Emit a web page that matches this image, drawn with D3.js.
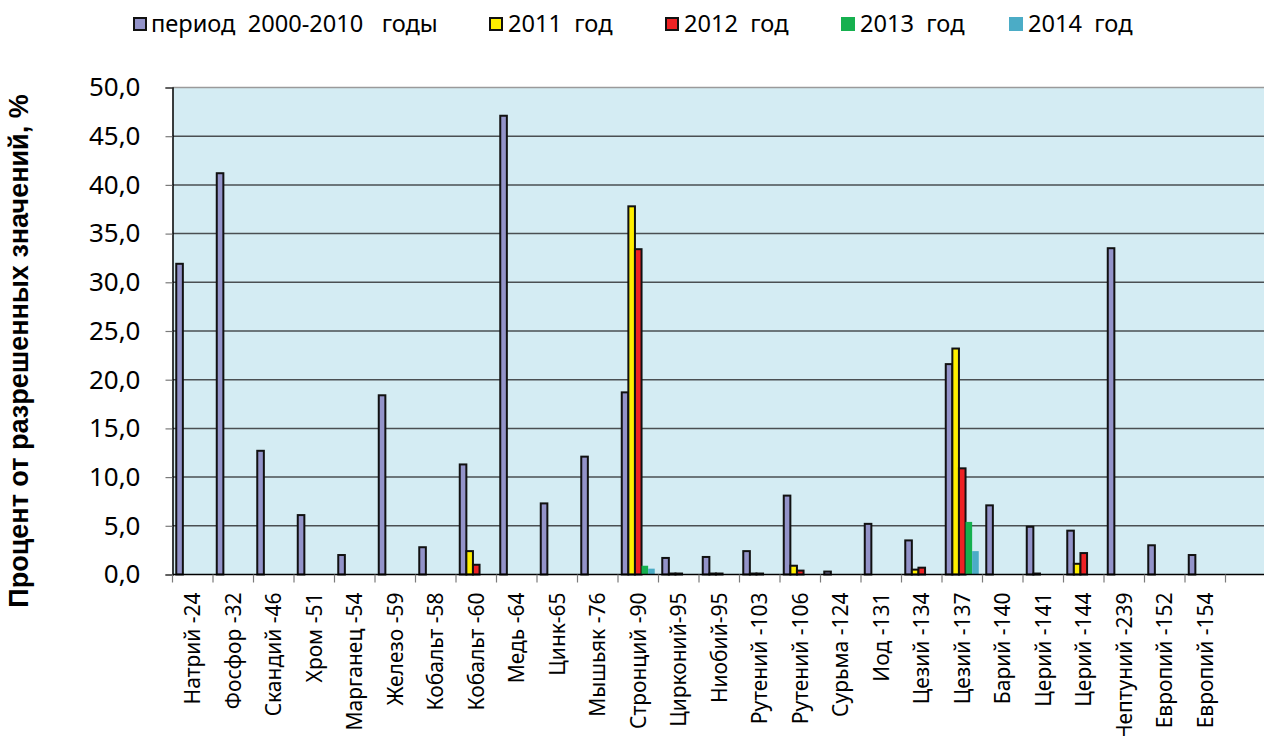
<!DOCTYPE html>
<html>
<head>
<meta charset="utf-8">
<script src="https://cdn.jsdelivr.net/npm/d3@7"></script>
<style>
  body { margin: 0; background: #fff; }
  svg { display: block; }
  text { white-space: pre; }
</style>
</head>
<body>
<script>
// chart data
const categories = ["Натрий -24", "Фосфор -32", "Скандий -46", "Хром -51", "Марганец -54",
  "Железо -59", "Кобальт -58", "Кобальт -60", "Медь -64", "Цинк-65", "Мышьяк -76",
  "Стронций -90", "Цирконий-95", "Ниобий-95", "Рутений -103", "Рутений -106",
  "Сурьма -124", "Иод -131", "Цезий -134", "Цезий -137", "Барий -140", "Церий -141",
  "Церий -144", "Нептуний -239", "Европий -152", "Европий -154"];

const seriesNames = ["период  2000-2010   годы", "2011  год", "2012  год", "2013  год", "2014  год"];

const period2000_2010 = [31.9, 41.2, 12.7, 6.1, 2.0, 18.4, 2.8, 11.3, 47.1, 7.3, 12.1,
  18.7, 1.7, 1.8, 2.4, 8.1, 0.3, 5.2, 3.5, 21.6, 7.1, 4.9, 4.5, 33.5, 3.0, 2.0];
const y2011 = [0, 0, 0, 0, 0, 0, 0, 2.4, 0, 0, 0,
  37.8, 0.1, 0.1, 0.1, 0.9, 0, 0, 0.5, 23.2, 0, 0.1, 1.1, 0, 0, 0];
const y2012 = [0, 0, 0, 0, 0, 0, 0, 1.0, 0, 0, 0,
  33.4, 0.1, 0.1, 0.1, 0.4, 0, 0, 0.7, 10.9, 0, 0, 2.2, 0, 0, 0];
const y2013 = [0, 0, 0, 0, 0, 0, 0, 0, 0, 0, 0,
  0.9, 0, 0, 0, 0, 0, 0, 0, 5.4, 0, 0, 0, 0, 0, 0];
const y2014 = [0, 0, 0, 0, 0, 0, 0, 0, 0, 0, 0,
  0.6, 0, 0, 0, 0, 0, 0, 0, 2.4, 0, 0, 0, 0, 0, 0];

const yTicks = [0, 5, 10, 15, 20, 25, 30, 35, 40, 45, 50];
const yTitle = "Процент от разрешенных значений, %";

const colors = ["#9393c9", "#ffef00", "#ee2224", "#16b04f", "#4bacc6"];
const outlined = [true, true, true, false, false];
const legendX = [133, 489, 665, 841, 1009];

const allSeries = [period2000_2010, y2011, y2012, y2013, y2014];

const W = 1264, H = 736;
const plot = { left: 172.5, right: 1225.5, top: 87.5, bottom: 574.5 };

const svg = d3.select("body").append("svg")
    .attr("width", W)
    .attr("height", H);

const x = d3.scaleBand()
    .domain(categories)
    .range([plot.left, plot.right])
    .paddingInner(0)
    .paddingOuter(0);

const xs = d3.scaleBand()
    .domain(d3.range(seriesNames.length))
    .range([0, x.bandwidth()])
    .paddingInner(0)
    .paddingOuter(0.57);

const y = d3.scaleLinear()
    .domain([0, 50])
    .range([plot.bottom, plot.top]);

const fmt = d3.formatLocale({ decimal: ",", thousands: " ", grouping: [3], currency: ["", ""] }).format(".1f");

// plot background (runs off the right edge like the original)
svg.append("rect")
    .attr("x", plot.left)
    .attr("y", plot.top)
    .attr("width", W - plot.left)
    .attr("height", plot.bottom - plot.top)
    .attr("fill", "#d4ecf3");

// gridlines
svg.append("g")
    .selectAll("line")
    .data(yTicks.filter(d => d > 0))
    .enter()
    .append("line")
    .attr("x1", plot.left)
    .attr("x2", W)
    .attr("y1", d => y(d))
    .attr("y2", d => y(d))
    .attr("stroke", d => d === 50 ? "#9a9a9a" : "#4a4f52")
    .attr("stroke-width", 1.5);

// y axis
const yAxis = svg.append("g")
    .attr("transform", `translate(${plot.left},0)`)
    .call(d3.axisLeft(y).tickValues(yTicks).tickSize(7).tickPadding(25).tickFormat(fmt));
yAxis.select(".domain").attr("stroke", "#000").attr("stroke-width", 1.5);
yAxis.selectAll(".tick line").attr("stroke", "#7a7a7a").attr("stroke-width", 1.2);
yAxis.selectAll(".tick text")
    .attr("font-family", "'Noto Sans', sans-serif")
    .attr("font-size", 26)
    .attr("fill", "#000");

// bars
const groups = svg.append("g")
    .selectAll("g")
    .data(allSeries)
    .enter()
    .append("g")
    .attr("fill", (d, i) => colors[i]);

groups.each(function(vals, si) {
  d3.select(this).selectAll("rect")
      .data(vals.map((v, ci) => ({ v: v, c: categories[ci] })).filter(d => d.v > 0))
      .enter()
      .append("rect")
      .attr("x", d => x(d.c) + xs(si))
      .attr("width", xs.bandwidth())
      .attr("y", d => y(d.v))
      .attr("height", d => y(0) - y(d.v))
      .attr("stroke", outlined[si] ? "#111" : "none")
      .attr("stroke-width", 2);
});

// x axis
const xAxis = svg.append("g")
    .attr("transform", `translate(0,${plot.bottom})`);
xAxis.append("line")
    .attr("x1", plot.left)
    .attr("x2", W)
    .attr("stroke", "#000")
    .attr("stroke-width", 1.5);
xAxis.selectAll("line.tk")
    .data(categories.concat([null]))
    .enter()
    .append("line")
    .attr("class", "tk")
    .attr("x1", (d, i) => plot.left + i * x.step())
    .attr("x2", (d, i) => plot.left + i * x.step())
    .attr("y1", 0)
    .attr("y2", 8)
    .attr("stroke", "#7a7a7a")
    .attr("stroke-width", 1.2);
xAxis.selectAll("text")
    .data(categories)
    .enter()
    .append("text")
    .attr("transform", d => `translate(${x(d) + x.bandwidth() / 2},18) rotate(-90)`)
    .attr("dy", "0.36em")
    .attr("text-anchor", "end")
    .attr("font-family", "'Noto Sans', sans-serif")
    .attr("font-size", 21)
    .attr("fill", "#000")
    .text(d => d);

// y title
svg.append("text")
    .attr("transform", "translate(28,351) rotate(-90)")
    .attr("text-anchor", "middle")
    .attr("font-family", "'Liberation Sans', Arial, sans-serif")
    .attr("font-weight", "bold")
    .attr("font-size", 27)
    .attr("fill", "#000")
    .text(yTitle);

// legend
const legend = svg.append("g")
    .selectAll("g")
    .data(seriesNames)
    .enter()
    .append("g")
    .attr("transform", (d, i) => `translate(${legendX[i]},0)`);
legend.append("rect")
    .attr("x", (d, i) => outlined[i] ? 1 : 0)
    .attr("y", (d, i) => outlined[i] ? 18 : 17)
    .attr("width", (d, i) => outlined[i] ? 12 : 14)
    .attr("height", (d, i) => outlined[i] ? 12 : 14)
    .attr("fill", (d, i) => colors[i])
    .attr("stroke", (d, i) => outlined[i] ? "#111" : "none")
    .attr("stroke-width", 2);
legend.append("text")
    .attr("x", (d, i) => i === 0 ? 18 : 19)
    .attr("y", 32)
    .attr("font-family", "'Noto Sans', sans-serif")
    .attr("font-size", 23.6)
    .attr("fill", "#000")
    .text(d => d);
</script>
</body>
</html>
